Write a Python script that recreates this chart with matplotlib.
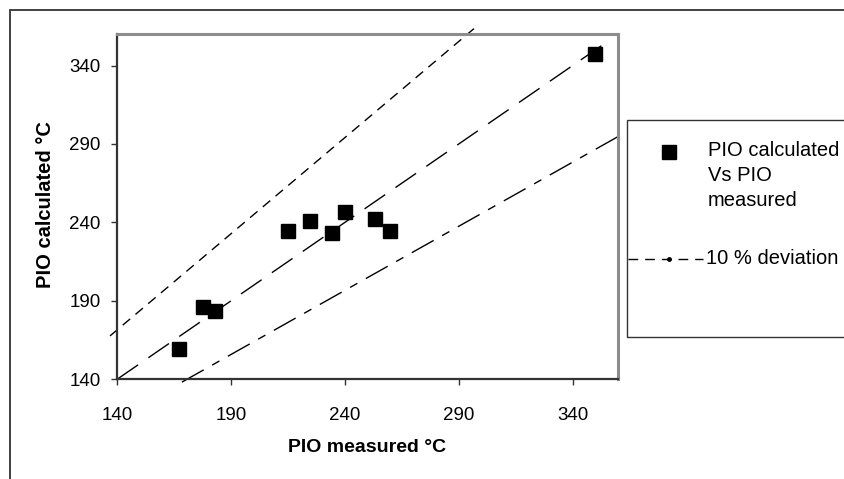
import matplotlib
matplotlib.use("Agg")
import matplotlib.pyplot as plt
from matplotlib.patches import Rectangle
from matplotlib.lines import Line2D

plt.rcParams['font.family'] = ['Liberation Sans', 'DejaVu Sans']

# Data
pio_measured = [167.2, 177.8, 182.8, 215.0, 224.8, 234.5, 239.9, 253.1, 259.9, 350.0]
pio_calculated = [159.2, 185.8, 183.4, 234.7, 240.9, 233.0, 246.4, 242.4, 234.7, 347.5]

# reference lines (end points)
ideal_x = [140, 357]
ideal_y = [140, 357]
upper_x = [136.7, 297.0]
upper_y = [167.5, 364.0]
lower_x = [168.3, 360.0]
lower_y = [138.0, 294.7]

xticks = [140, 190, 240, 290, 340]
yticks = [140, 190, 240, 290, 340]

W, H = 845, 479
fig = plt.figure(figsize=(W / 100, H / 100), dpi=100)

def fx(px):
    return px / W

def fy(py):
    return 1 - py / H

# outer chart border
fig.patches.append(Rectangle((fx(10), -0.1), 2, fy(10) + 0.1, transform=fig.transFigure,
                             fill=False, ec='#333333', lw=1.3))

left, right, top, bottom = 117.5, 618, 34.3, 379
ax = fig.add_axes([fx(left), fy(bottom), fx(right) - fx(left), fy(top) - fy(bottom)])
ax.set_xlim(140, 360)
ax.set_ylim(140, 360)

ax.plot(upper_x, upper_y, color='black', lw=1.0, dashes=(7, 5), clip_on=False)
ax.plot(ideal_x, ideal_y, color='black', lw=1.0, dashes=(18, 9), clip_on=False)
ax.plot(lower_x, lower_y, color='black', lw=1.0, dashes=(18, 7, 6, 7), clip_on=False)
ax.plot(pio_measured, pio_calculated, 's', color='black', markersize=10.5, clip_on=False, zorder=5)

for s in ['top', 'right']:
    ax.spines[s].set_color('#8c8c8c')
    ax.spines[s].set_linewidth(2.2)
for s in ['left', 'bottom']:
    ax.spines[s].set_color('#333333')
    ax.spines[s].set_linewidth(1.6)

ax.set_xticks(xticks)
ax.set_yticks(yticks)
ax.tick_params(axis='both', direction='out', length=4, width=1, color='#333333', labelsize=13.5)
ax.tick_params(axis='x', pad=16)
ax.tick_params(axis='y', pad=8)

fig.text(fx(367), fy(447), 'PIO measured °C', ha='center', va='center', fontsize=14, fontweight='bold')
fig.text(fx(46), fy(205), 'PIO calculated °C', ha='center', va='center', fontsize=14.5,
         fontweight='bold', rotation=90)

# legend box
fig.patches.append(Rectangle((fx(627), fy(337)), 1, fy(120) - fy(337), transform=fig.transFigure,
                             fill=False, ec='#333333', lw=1.0))
fig.lines.append(Line2D([fx(669)], [fy(151.7)], marker='s', color='black', markersize=10,
                        linestyle='none', transform=fig.transFigure))
fig.text(fx(708), fy(151), 'PIO calculated', ha='left', va='center', fontsize=14.5)
fig.text(fx(708), fy(175.7), 'Vs PIO', ha='left', va='center', fontsize=14.5)
fig.text(fx(708), fy(200), 'measured', ha='left', va='center', fontsize=14.5)
fig.lines.append(Line2D([fx(628), fx(703)], [fy(258.7), fy(258.7)], color='black', lw=1.0,
                        dashes=(7, 5), transform=fig.transFigure))
fig.lines.append(Line2D([fx(669)], [fy(258.7)], marker='o', color='black', markersize=2.5,
                        linestyle='none', transform=fig.transFigure))
fig.text(fx(706), fy(258.7), '10 % deviation', ha='left', va='center', fontsize=14.5)

fig.savefig('out.png', dpi=100)
